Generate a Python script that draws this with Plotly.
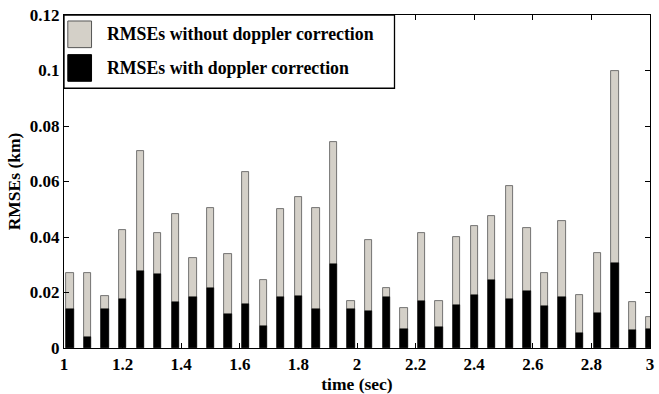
import plotly.graph_objects as go

# Sample times (sec) and RMSE values (km)
times = [round(1.02 + 0.06 * k, 2) for k in range(34)]
rmse_without = [0.0271, 0.0269, 0.0186, 0.0424, 0.0710, 0.0415, 0.0482, 0.0323,
                0.0503, 0.0338, 0.0633, 0.0244, 0.0501, 0.0545, 0.0503, 0.0742,
                0.0169, 0.0390, 0.0217, 0.0145, 0.0414, 0.0171, 0.0401, 0.0439,
                0.0474, 0.0585, 0.0433, 0.0272, 0.0457, 0.0190, 0.0341, 0.0999,
                0.0164, 0.0113]
rmse_with = [0.0142, 0.0040, 0.0140, 0.0177, 0.0279, 0.0267, 0.0164, 0.0184,
             0.0216, 0.0121, 0.0158, 0.0078, 0.0184, 0.0189, 0.0142, 0.0303,
             0.0141, 0.0135, 0.0184, 0.0070, 0.0170, 0.0077, 0.0155, 0.0190,
             0.0246, 0.0175, 0.0206, 0.0152, 0.0184, 0.0054, 0.0125, 0.0307,
             0.0065, 0.0069]

# Axis tick positions and labels
x_ticks = [1.0, 1.2, 1.4, 1.6, 1.8, 2.0, 2.2, 2.4, 2.6, 2.8, 3.0]
x_labels = ["1", "1.2", "1.4", "1.6", "1.8", "2", "2.2", "2.4", "2.6", "2.8", "3"]
y_ticks = [0, 0.02, 0.04, 0.06, 0.08, 0.10, 0.12]
y_labels = ["0", "0.02", "0.04", "0.06", "0.08", "0.1", "0.12"]

GREY = "#d4d0c8"
FONT = "Liberation Serif"


def bold(size):
    return dict(family=FONT, size=size, color="black", weight=700)


fig = go.Figure()
fig.add_trace(go.Bar(x=times, y=rmse_without, width=0.025,
                     marker=dict(color=GREY, line=dict(color="#555555", width=0.8)),
                     name="RMSEs without doppler correction", showlegend=False))
fig.add_trace(go.Bar(x=times, y=rmse_with, width=0.025,
                     marker=dict(color="black", line=dict(color="black", width=0.5)),
                     name="RMSEs with doppler correction", showlegend=False))

axis_common = dict(showline=True, linecolor="black", linewidth=1.3, mirror="ticks",
                   ticks="inside", ticklen=5, tickwidth=1, tickcolor="black",
                   showgrid=False, zeroline=False, tickfont=bold(17))

fig.update_xaxes(range=[1, 3], tickmode="array", tickvals=x_ticks,
                 ticktext=[f"<b>{t}</b>" for t in x_labels],
                 title=dict(text="<b>time (sec)</b>", standoff=2, font=bold(17.5)),
                 **axis_common)
fig.update_yaxes(range=[0, 0.12], tickmode="array", tickvals=y_ticks,
                 ticktext=[f"<b>{t}</b>" for t in y_labels],
                 title=dict(text="<b>RMSEs (km)</b>", standoff=4, font=bold(17.5)),
                 **axis_common)

# Legend box drawn in the upper-left corner of the axes
shapes = [
    dict(type="rect", xref="x", yref="paper", x0=1.0, x1=2.128, y0=0.78, y1=1.0,
         fillcolor="white", line=dict(color="black", width=1.3), layer="above"),
    dict(type="rect", xref="x", yref="paper", x0=1.013, x1=1.094, y0=0.902, y1=0.982,
         fillcolor=GREY, line=dict(color="#555555", width=1), layer="above"),
    dict(type="rect", xref="x", yref="paper", x0=1.013, x1=1.094, y0=0.801, y1=0.881,
         fillcolor="black", line=dict(color="black", width=1), layer="above"),
]
annotations = [
    dict(text="<b>RMSEs without doppler correction</b>", xref="x", yref="paper",
         x=1.14, y=0.942, xanchor="left", yanchor="middle", showarrow=False,
         font=bold(17.8)),
    dict(text="<b>RMSEs with doppler correction</b>", xref="x", yref="paper",
         x=1.14, y=0.840, xanchor="left", yanchor="middle", showarrow=False,
         font=bold(17.8)),
]

fig.update_layout(
    width=659, height=394,
    barmode="overlay",
    bargap=0,
    plot_bgcolor="white", paper_bgcolor="white",
    margin=dict(l=64, r=5, t=15, b=46),
    shapes=shapes, annotations=annotations,
)

fig.write_html("out.html")
